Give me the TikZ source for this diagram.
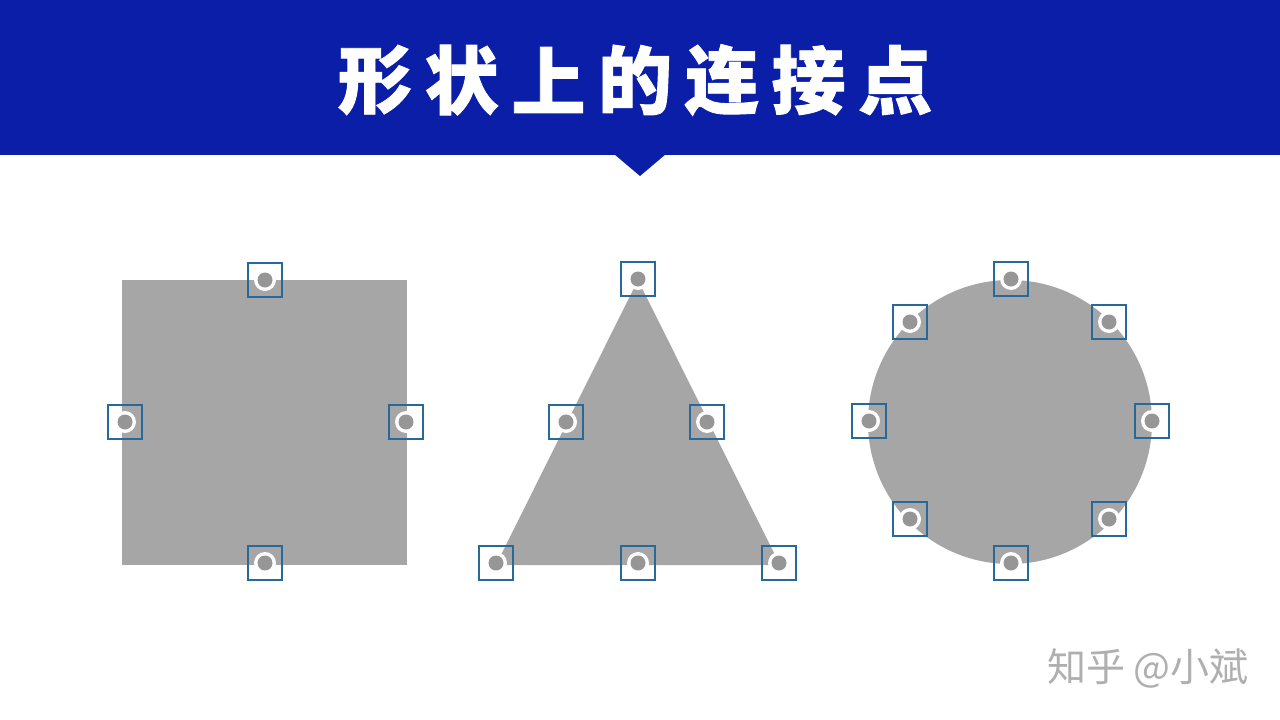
\documentclass[tikz,border=0pt]{standalone}
\usepackage{fontspec}
\newfontfamily\cjk{Noto Sans CJK SC}
\newfontfamily\cjkt[BoldFeatures={FakeBold=1.2}]{Noto Sans CJK SC}
\definecolor{hdrblue}{RGB}{10,30,168}
\definecolor{shapegray}{RGB}{166,166,166}
\definecolor{dotgray}{RGB}{150,150,150}
\definecolor{boxblue}{RGB}{40,105,155}
\definecolor{wmgray}{RGB}{175,175,175}
\tikzset{
  cpbox/.style={draw=boxblue, line width=1.6pt, minimum size=34pt, inner sep=0pt, fill=none},
  shapefill/.style={fill=shapegray, draw=none},
  titlechar/.style={text=white, font=\cjkt\bfseries\fontsize{74}{80}\selectfont, inner sep=0pt},
}
\begin{document}
\begin{tikzpicture}[x=1pt,y=-1pt]
\useasboundingbox (0,0) rectangle (1280,720);
\fill[white] (0,0) rectangle (1280,720);
% header
\fill[hdrblue] (0,0) rectangle (1280,155);
\fill[hdrblue] (614,154) -- (666,154) -- (640,176) -- cycle;
\foreach \c [count=\i from 0] in {形,状,上,的,连,接,点}{
  \node[titlechar] (t\i) at ({375+86.7*\i},80) {\c};
}
% shapes
\fill[shapefill] (122,280) rectangle (407,565);
\fill[shapefill] (638,280) -- (780,565) -- (496,565) -- cycle;
\fill[shapefill] (1010,422) circle (142);
% connection points
\foreach \n/\x/\y in {
  s1/265/280, s2/125/422, s3/406/422, s4/265/563,
  r1/638/279, r2/566/422, r3/707/422, r4/496/563, r5/638/563, r6/779/563,
  c1/1011/279, c2/910/322, c3/1109/322, c4/869/421, c5/1152/421, c6/910/519, c7/1109/519, c8/1011/563}{
  \fill[white] (\x,\y) circle (11);
  \fill[dotgray] (\x,\y) circle (7.5);
  \node[cpbox] (\n) at (\x,\y) {};
}
% watermark
\node[anchor=east, text=wmgray, font=\cjk\fontsize{39}{44}\selectfont, inner sep=0pt] (wm) at (1249,668) {知乎 @小斌};
\end{tikzpicture}
\end{document}
